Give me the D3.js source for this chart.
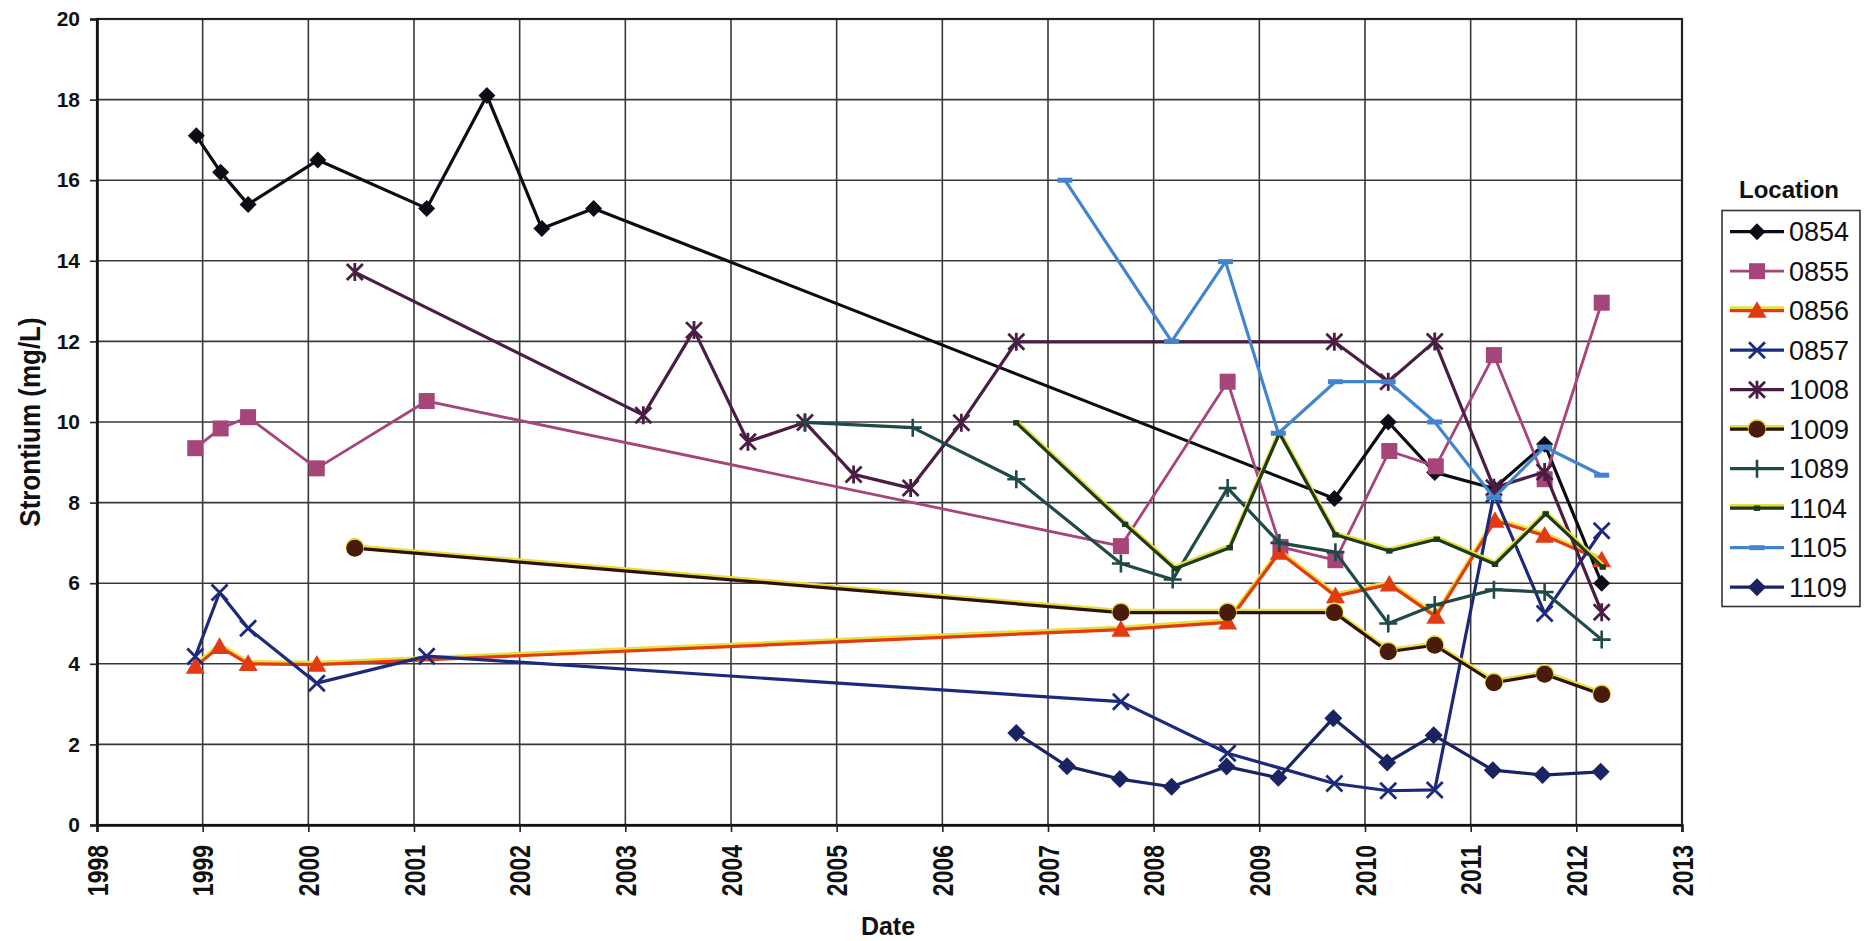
<!DOCTYPE html>
<html>
<head>
<meta charset="utf-8">
<script src="https://cdn.jsdelivr.net/npm/d3@7"></script>
<style>
  body { margin: 0; background: #fff; }
  svg { display: block; font-family: "Liberation Sans", Arial, sans-serif; }
</style>
</head>
<body>
<svg id="chart" width="1870" height="941"></svg>
<script>
// Strontium (mg/L) per sampling location, as [decimal year, value]
const loc0854 = [[1998.94,17.1],[1999.17,16.2],[1999.43,15.4],[2000.09,16.5],[2001.12,15.3],[2001.69,18.1],[2002.21,14.8],[2002.70,15.3],[2009.71,8.1],[2010.22,10.0],[2010.66,8.75],[2011.22,8.35],[2011.70,9.45],[2012.24,6.0]];
const loc0855 = [[1998.93,9.35],[1999.17,9.84],[1999.43,10.12],[2000.08,8.85],[2001.12,10.52],[2007.69,6.92],[2008.70,11.0],[2009.20,6.9],[2009.72,6.57],[2010.23,9.28],[2010.67,8.9],[2011.22,11.66],[2011.70,8.58],[2012.24,12.96]];
const loc0856 = [[1998.93,3.93],[1999.16,4.42],[1999.43,4.0],[2000.08,3.98],[2007.69,4.85],[2008.70,5.03],[2009.19,6.76],[2009.72,5.68],[2010.23,5.97],[2010.67,5.17],[2011.23,7.55],[2011.70,7.18],[2012.24,6.57]];
const loc0857 = [[1998.93,4.18],[1999.16,5.77],[1999.43,4.88],[2000.08,3.52],[2001.12,4.19],[2007.69,3.06],[2008.70,1.78],[2009.71,1.03],[2010.22,0.85],[2010.66,0.87],[2011.22,8.2],[2011.70,5.25],[2012.24,7.3]];
const loc1008 = [[2000.44,13.72],[2003.17,10.17],[2003.65,12.28],[2004.16,9.51],[2004.70,9.99],[2005.16,8.7],[2005.70,8.36],[2006.18,9.98],[2006.70,11.99],[2009.71,11.99],[2010.22,11.0],[2010.66,12.0],[2011.22,8.37],[2011.70,8.76],[2012.24,5.28]];
const loc1009 = [[2000.44,6.87],[2007.69,5.27],[2008.70,5.27],[2009.71,5.27],[2010.22,4.3],[2010.66,4.46],[2011.22,3.53],[2011.70,3.74],[2012.24,3.24]];
const loc1089 = [[2004.70,9.99],[2005.72,9.86],[2006.70,8.58],[2007.69,6.49],[2008.18,6.09],[2008.70,8.36],[2009.19,7.0],[2009.72,6.77],[2010.22,5.0],[2010.66,5.46],[2011.22,5.84],[2011.70,5.78],[2012.24,4.6]];
const loc1104 = [[2006.70,9.98],[2007.73,7.46],[2008.20,6.36],[2008.72,6.88],[2009.19,9.72],[2009.72,7.2],[2010.23,6.8],[2010.68,7.09],[2011.23,6.47],[2011.71,7.72],[2012.25,6.4]];
const loc1105 = [[2007.16,16.0],[2008.17,12.0],[2008.68,13.98],[2009.18,9.72],[2009.72,11.0],[2010.22,11.0],[2010.66,10.0],[2011.22,8.12],[2011.70,9.38],[2012.24,8.68]];
const loc1109 = [[2006.70,2.28],[2007.18,1.46],[2007.68,1.14],[2008.17,0.95],[2008.69,1.45],[2009.18,1.17],[2009.70,2.65],[2010.21,1.55],[2010.65,2.23],[2011.21,1.36],[2011.68,1.24],[2012.23,1.32]];

const locationNames = ["0854","0855","0856","0857","1008","1009","1089","1104","1105","1109"];
const locationData = [loc0854, loc0855, loc0856, loc0857, loc1008, loc1009, loc1089, loc1104, loc1105, loc1109];
const yearTicks = d3.range(1998, 2014);
const valueTicks = d3.range(0, 21, 2);

// look of each series (line colour, marker, faint yellow edge left by the scan)
const styles = {
  "0854": { color: "#0c0c16", width: 3.2, marker: "diamond", size: 8.5, halo: 0 },
  "0855": { color: "#a5457a", width: 2.8, marker: "square", size: 8, halo: 0 },
  "0856": { color: "#e23a12", width: 3.2, marker: "triangle", size: 9.5, halo: 1.5 },
  "0857": { color: "#1d2a7c", width: 3.2, marker: "x", size: 8, halo: 0 },
  "1008": { color: "#4a1d45", width: 3.2, marker: "asterisk", size: 8, halo: 0 },
  "1009": { color: "#2e1208", width: 3.2, marker: "circle", size: 8.5, halo: 1.2, fill: "#4a1a0a" },
  "1089": { color: "#1f4a48", width: 3.2, marker: "plus", size: 9, halo: 0 },
  "1104": { color: "#1c3a1c", width: 3.2, marker: "smallsquare", size: 3.2, halo: 1.2 },
  "1105": { color: "#4384cf", width: 3.2, marker: "dash", size: 7.5, halo: 0 },
  "1109": { color: "#1a2463", width: 3.2, marker: "diamond", size: 9, halo: 0 }
};

const svg = d3.select("#chart");

const plot = { left: 97, right: 1682, top: 19, bottom: 825 };

const x = d3.scaleLinear().domain([1998, 2013]).range([plot.left, plot.right]);
const y = d3.scaleLinear().domain([0, 20]).range([plot.bottom, plot.top]);

/* ********* grid ********* */
let grid = svg.append("g");
grid.selectAll("line.v")
  .data(yearTicks.slice(1, -1))
  .enter().append("line")
    .attr("x1", d => x(d)).attr("x2", d => x(d))
    .attr("y1", plot.top).attr("y2", plot.bottom)
    .attr("stroke", "#383838").attr("stroke-width", 1.6);
grid.selectAll("line.h")
  .data(valueTicks.slice(1, -1))
  .enter().append("line")
    .attr("y1", d => y(d)).attr("y2", d => y(d))
    .attr("x1", plot.left).attr("x2", plot.right)
    .attr("stroke", "#383838").attr("stroke-width", 1.6);

// frame
svg.append("rect")
  .attr("x", plot.left).attr("y", plot.top)
  .attr("width", plot.right - plot.left).attr("height", plot.bottom - plot.top)
  .attr("fill", "none").attr("stroke", "#222").attr("stroke-width", 2.2);

/* ********* axes ********* */
let xAxis = svg.append("g")
  .attr("transform", "translate(0," + plot.bottom + ")")
  .call(d3.axisBottom(x).tickValues(yearTicks).tickFormat(d3.format("d")).tickSize(7));
xAxis.select(".domain").attr("stroke", "#111").attr("stroke-width", 2.6);
xAxis.selectAll(".tick line").attr("stroke", "#222").attr("stroke-width", 1.6);
xAxis.selectAll(".tick text")
  .attr("x", 0).attr("y", 0).attr("dy", null)
  .attr("transform", "translate(0,20) rotate(-90) scale(1,1.3)")
  .attr("text-anchor", "end")
  .attr("dominant-baseline", "central")
  .attr("fill", "#111")
  .style("font-size", "23px").style("font-weight", "bold")
  .style("font-family", "'Liberation Sans', Arial, sans-serif");

let yAxis = svg.append("g")
  .attr("transform", "translate(" + plot.left + ",0)")
  .call(d3.axisLeft(y).tickValues(valueTicks).tickSize(7));
yAxis.select(".domain").attr("stroke", "#111").attr("stroke-width", 2.6);
yAxis.selectAll(".tick line").attr("stroke", "#222").attr("stroke-width", 1.6);
yAxis.selectAll(".tick text")
  .attr("x", -17)
  .attr("fill", "#111")
  .style("font-size", "21px").style("font-weight", "bold")
  .style("font-family", "'Liberation Sans', Arial, sans-serif");

// axis titles
svg.append("text")
  .attr("transform", "translate(40,422) rotate(-90) scale(1,1.15)")
  .attr("text-anchor", "middle")
  .style("font-size", "26px").style("font-weight", "bold")
  .attr("fill", "#111")
  .text("Strontium (mg/L)");

svg.append("text")
  .attr("x", 888).attr("y", 935)
  .attr("text-anchor", "middle")
  .style("font-size", "25px").style("font-weight", "bold")
  .attr("fill", "#111")
  .text("Date");

/* ********* markers ********* */
function drawMarker(g, st) {
  let s = st.size;
  if (st.marker == "diamond") {
    g.append("path").attr("d", `M0,${-s}L${s},0L0,${s}L${-s},0Z`).attr("fill", st.color);
  } else if (st.marker == "square") {
    g.append("rect").attr("x", -s).attr("y", -s).attr("width", 2 * s).attr("height", 2 * s).attr("fill", st.color);
  } else if (st.marker == "triangle") {
    g.append("path").attr("d", `M0,${-s}L${s},${s * 0.75}L${-s},${s * 0.75}Z`).attr("fill", st.color);
  } else if (st.marker == "x") {
    g.append("path").attr("d", `M${-s},${-s}L${s},${s}M${-s},${s}L${s},${-s}`)
      .attr("stroke", st.color).attr("stroke-width", 2.8);
  } else if (st.marker == "asterisk") {
    g.append("path").attr("d", `M${-s},${-s}L${s},${s}M${-s},${s}L${s},${-s}M0,${-s - 1}L0,${s + 1}`)
      .attr("stroke", st.color).attr("stroke-width", 2.8);
  } else if (st.marker == "circle") {
    g.append("circle").attr("r", s + 0.8).attr("cy", -1).attr("fill", "#e6dc3a");
    g.append("circle").attr("r", s).attr("fill", st.fill);
  } else if (st.marker == "plus") {
    g.append("path").attr("d", `M${-s},0L${s},0M0,${-s}L0,${s}`)
      .attr("stroke", st.color).attr("stroke-width", 2.6);
  } else if (st.marker == "smallsquare") {
    g.append("rect").attr("x", -s).attr("y", -s + 0.5).attr("width", 2 * s).attr("height", 2 * s - 1).attr("fill", st.color);
  } else if (st.marker == "dash") {
    g.append("rect").attr("x", -s).attr("y", -2.5).attr("width", 2 * s).attr("height", 5).attr("fill", st.color);
  }
}

/* ********* series ********* */
let line = d3.line().x(d => x(d[0])).y(d => y(d[1]));

locationNames.forEach((name, i) => {
  let st = styles[name];
  let data = locationData[i];
  let g = svg.append("g").attr("class", "series s" + name);

  if (st.halo > 0) {
    g.append("path")
      .attr("d", line(data))
      .attr("transform", "translate(0,-1.6)")
      .attr("fill", "none").attr("stroke", "#e9df3c")
      .attr("stroke-width", st.width + st.halo).attr("stroke-linejoin", "round");
  }
  g.append("path")
    .attr("d", line(data))
    .attr("fill", "none").attr("stroke", st.color)
    .attr("stroke-width", st.width).attr("stroke-linejoin", "round");

  g.selectAll("g.pt")
    .data(data)
    .enter().append("g")
      .attr("transform", d => "translate(" + x(d[0]) + "," + y(d[1]) + ")")
      .each(function () { drawMarker(d3.select(this), st); });
});

/* ********* legend ********* */
let legend = svg.append("g");
legend.append("text")
  .attr("x", 1789).attr("y", 198)
  .attr("text-anchor", "middle")
  .style("font-size", "24px").style("font-weight", "bold")
  .attr("fill", "#111")
  .text("Location");

legend.append("rect")
  .attr("x", 1722).attr("y", 210.5).attr("width", 138).attr("height", 396)
  .attr("fill", "#fff").attr("stroke", "#333").attr("stroke-width", 1.6);

locationNames.forEach((name, i) => {
  let st = styles[name];
  let ly = 231.7 + i * 39.5;
  let row = legend.append("g").attr("transform", "translate(0," + ly + ")");
  if (st.halo > 0) {
    row.append("line").attr("x1", 1730).attr("x2", 1784).attr("y1", -1.6).attr("y2", -1.6)
      .attr("stroke", "#e9df3c").attr("stroke-width", st.width + st.halo + 1);
  }
  row.append("line").attr("x1", 1730).attr("x2", 1784)
    .attr("stroke", st.color).attr("stroke-width", st.width);
  drawMarker(row.append("g").attr("transform", "translate(1757,0)"), st);
  row.append("text")
    .attr("x", 1789).attr("y", 0).attr("dy", "0.36em")
    .style("font-size", "27px")
    .attr("fill", "#111")
    .text(name);
});
</script>
</body>
</html>
